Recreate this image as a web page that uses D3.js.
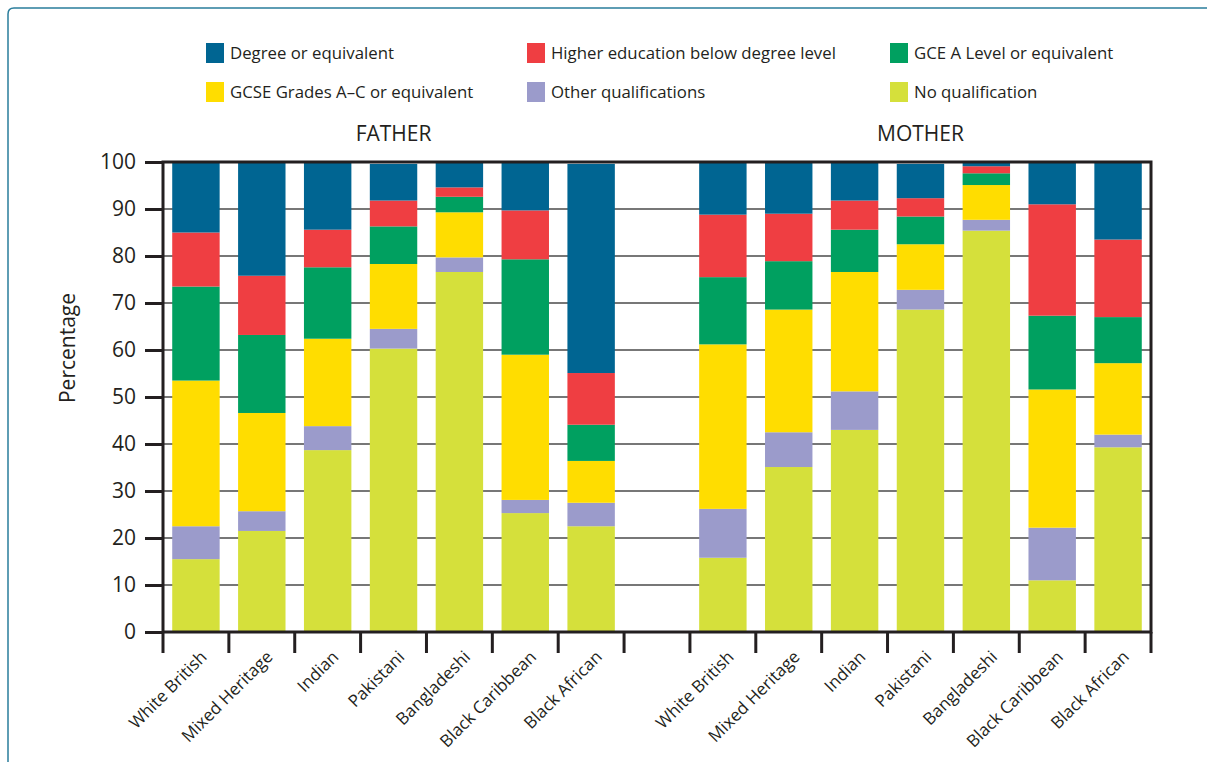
<!DOCTYPE html>
<html>
<head>
<meta charset="utf-8">
<title>Qualifications of parents by ethnic group</title>
<script src="https://d3js.org/d3.v7.min.js"></script>
<style>
body { margin: 0; background: #fff; }
svg { display: block; font-family: "Open Sans", sans-serif; }
.grid line { stroke: #777; stroke-width: 2; }
.frame { fill: none; stroke: #231f20; stroke-width: 3; }
.tick-mark { stroke: #231f20; stroke-width: 3; }
text { fill: #231f20; }
</style>
</head>
<body>
<svg width="1207" height="762"></svg>
<script>

// categories and series (stacked bottom -> top)
var groups = ["FATHER", "MOTHER"];
var ethnicities = ["White British", "Mixed Heritage", "Indian", "Pakistani", "Bangladeshi", "Black Caribbean", "Black African"];
var seriesNames = ["No qualification", "Other qualifications", "GCSE Grades A\u2013C or equivalent",
                   "GCE A Level or equivalent", "Higher education below degree level", "Degree or equivalent"];
var seriesColors = ["#d5e03b", "#9b9bcb", "#ffdd00", "#00a060", "#ef3e42", "#006592"];

// values, percent, same order as ethnicities
var fatherNoQual  = [15.5, 21.5, 38.7, 60.3, 76.6, 25.3, 22.5];
var fatherOther   = [ 7.0,  4.2,  5.1,  4.2,  3.1,  2.8,  5.0];
var fatherGCSE    = [31.0, 20.9, 18.6, 13.8,  9.6, 30.9,  8.9];
var fatherALevel  = [20.0, 16.6, 15.2,  8.0,  3.3, 20.3,  7.7];
var fatherHigher  = [11.5, 12.6,  8.0,  5.5,  2.0, 10.4, 11.0];
var fatherDegree  = [15.0, 24.2, 14.4,  7.8,  5.4, 10.3, 44.5];

var motherNoQual  = [15.8, 35.1, 43.0, 68.6, 85.4, 11.0, 39.3];
var motherOther   = [10.4,  7.4,  8.2,  4.2,  2.3, 11.2,  2.7];
var motherGCSE    = [35.0, 26.1, 25.4,  9.7,  7.4, 29.4, 15.2];
var motherALevel  = [14.3, 10.3,  9.0,  5.9,  2.5, 15.7,  9.8];
var motherHigher  = [13.3, 10.1,  6.2,  3.9,  1.5, 23.7, 16.5];
var motherDegree  = [11.2, 11.0,  8.2,  7.3,  0.9,  9.0, 16.5];

var yTicks = [0, 10, 20, 30, 40, 50, 60, 70, 80, 90, 100];

var father = [fatherNoQual, fatherOther, fatherGCSE, fatherALevel, fatherHigher, fatherDegree];
var mother = [motherNoQual, motherOther, motherGCSE, motherALevel, motherHigher, motherDegree];

// one row per bar; a blank slot separates the two groups
var rows = [];
ethnicities.forEach(function(e, i) {
  var r = {key: "F|" + e, label: e};
  seriesNames.forEach(function(s, j) { r[s] = father[j][i]; });
  rows.push(r);
});
var gapKey = "gap";
ethnicities.forEach(function(e, i) {
  var r = {key: "M|" + e, label: e};
  seriesNames.forEach(function(s, j) { r[s] = mother[j][i]; });
  rows.push(r);
});
var slotKeys = rows.slice(0, 7).map(function(d) { return d.key; })
  .concat([gapKey])
  .concat(rows.slice(7).map(function(d) { return d.key; }));

var svg = d3.select("svg"),
    margin = {top: 162, right: 56, bottom: 130, left: 163},
    width = 1151 - margin.left,
    height = 632 - margin.top;

// outer box
svg.append("path")
    .attr("d", "M8,762 L8,14 Q8,8 14,8 L1207,8")
    .attr("fill", "none")
    .attr("stroke", "#2a7d9c")
    .attr("stroke-width", 1.5);

var x = d3.scaleBand()
    .domain(slotKeys)
    .range([0, width])
    .paddingInner(0.28)
    .paddingOuter(0.14);

var y = d3.scaleLinear()
    .domain([0, 100])
    .range([height, 0]);

var color = d3.scaleOrdinal().domain(seriesNames).range(seriesColors);

var g = svg.append("g")
    .attr("transform", "translate(" + margin.left + "," + margin.top + ")");

// gridlines
g.append("g")
    .attr("class", "grid")
  .selectAll("line").data(yTicks.filter(function(t) { return t > 0 && t < 100; }))
  .enter().append("line")
    .attr("x1", 0).attr("x2", width)
    .attr("y1", function(d) { return y(d); })
    .attr("y2", function(d) { return y(d); });

// stacked bars
var stacked = d3.stack().keys(seriesNames)(rows);

g.append("g").selectAll("g").data(stacked)
  .enter().append("g")
    .attr("fill", function(d) { return color(d.key); })
  .selectAll("rect").data(function(d) { return d; })
  .enter().append("rect")
    .attr("x", function(d) { return x(d.data.key); })
    .attr("width", x.bandwidth())
    .attr("y", function(d) { return y(d[1]); })
    .attr("height", function(d) { return y(d[0]) - y(d[1]); });

// frame: left axis, top, right, bottom
g.append("path")
    .attr("class", "frame")
    .attr("d", "M0," + (height + 1) + " L0,0 L" + width + ",0 L" + width + "," + height + " L0," + height);

// y axis
var yAxis = g.append("g")
    .call(d3.axisLeft(y).tickValues(yTicks).tickSize(18).tickPadding(9));
yAxis.select(".domain").remove();
yAxis.selectAll(".tick line").attr("stroke", "#231f20").attr("stroke-width", 3);
yAxis.selectAll(".tick text")
    .style("font-size", "21px")
    .style("font-family", "'Open Sans', sans-serif")
    .attr("fill", "#231f20");

// x ticks at slot boundaries
var bounds = d3.range(slotKeys.length + 1).map(function(i) { return i * x.step(); });
g.append("g").selectAll("line").data(bounds)
  .enter().append("line")
    .attr("class", "tick-mark")
    .attr("x1", function(d) { return d; }).attr("x2", function(d) { return d; })
    .attr("y1", height).attr("y2", height + 21);

// x labels
g.append("g").selectAll("text").data(rows)
  .enter().append("text")
    .attr("transform", function(d) {
      return "translate(" + (x(d.key) + x.bandwidth() / 2 + 12) + "," + (height + 26) + ") rotate(-45)";
    })
    .attr("text-anchor", "end")
    .style("font-size", "17px")
    .text(function(d) { return d.label; });

// y label
svg.append("text")
    .attr("transform", "translate(75,348) rotate(-90)")
    .attr("text-anchor", "middle")
    .style("font-size", "21px")
    .text("Percentage");

// group titles
groups.forEach(function(name, i) {
  var first = x(slotKeys[i * 8]), last = x(slotKeys[i * 8 + 6]) + x.bandwidth();
  svg.append("text")
      .attr("x", margin.left + (first + last) / 2)
      .attr("y", 141)
      .attr("text-anchor", "middle")
      .style("font-size", "21px")
      .text(name);
});

// legend: degree, higher, A level / GCSE, other, none
var legendOrder = [5, 4, 3, 2, 1, 0];
var legendX = [206, 527, 890];
var legend = svg.append("g").selectAll("g").data(legendOrder)
  .enter().append("g")
    .attr("transform", function(d, i) {
      return "translate(" + legendX[i % 3] + "," + (43 + Math.floor(i / 3) * 39) + ")";
    });
legend.append("rect")
    .attr("width", 18).attr("height", 20)
    .attr("fill", function(d) { return seriesColors[d]; });
legend.append("text")
    .attr("x", 24).attr("y", 16)
    .style("font-size", "16.8px")
    .text(function(d) { return seriesNames[d]; });

</script>
</body>
</html>
